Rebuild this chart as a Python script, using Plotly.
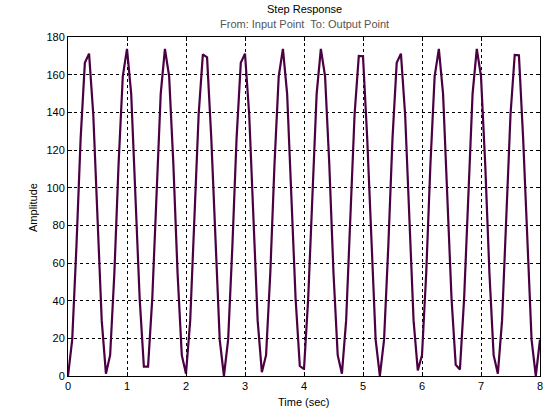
import plotly.graph_objects as go

sample_period = 1.0 / 14.0
amplitude = [
    0.00, 19.31, 68.67, 126.17, 166.28, 171.19, 138.73, 83.31, 29.52, 1.25,
    11.05, 54.56, 112.48, 159.08, 173.69, 149.81, 98.05, 41.38, 4.97, 4.97,
    41.38, 98.05, 149.81, 173.69, 159.08, 112.48, 54.56, 11.05, 1.25, 29.52,
    83.31, 138.73, 170.80, 169.20, 126.17, 68.67, 19.31,
    0.00, 19.31, 68.67, 126.17, 166.28, 171.19, 138.73, 83.31, 29.52, 2.00,
    11.05, 54.56, 112.48, 159.08, 173.69, 149.81, 98.05, 41.38, 5.30, 3.60,
    41.38, 98.05, 149.81, 173.69, 159.08, 112.48, 54.56, 11.05, 1.25, 29.52,
    83.31, 138.73, 170.00, 169.80, 126.17, 68.67, 19.31,
    0.00, 19.31, 68.67, 126.17, 166.28, 171.19, 138.73, 83.31, 29.52, 3.00,
    11.05, 54.56, 112.48, 159.08, 173.69, 149.81, 98.05, 41.38, 6.00, 3.50,
    41.38, 98.05, 149.81, 173.69, 159.08, 112.48, 54.56, 11.05, 1.25, 29.52,
    83.31, 138.73, 170.50, 170.30, 126.17, 68.67, 19.31,
    0.00, 19.31,
]
time = [i * sample_period for i in range(len(amplitude))]

x_ticks = [0, 1, 2, 3, 4, 5, 6, 7, 8]
y_ticks = [0, 20, 40, 60, 80, 100, 120, 140, 160, 180]

title_text = "Step Response"
subtitle_text = "From: Input Point  To: Output Point"
x_label = "Time (sec)"
y_label = "Amplitude"

FONT = "Liberation Sans, Arial, sans-serif"

fig = go.Figure()
fig.add_trace(go.Scatter(
    x=time, y=amplitude, mode="lines",
    line=dict(color="#4a0042", width=2.2),
    showlegend=False, hoverinfo="skip",
))

axis_common = dict(
    showline=True, linecolor="black", linewidth=1, mirror="ticks",
    ticks="inside", ticklen=4, tickcolor="black",
    showgrid=True, gridcolor="black", gridwidth=1, griddash="3px,3px",
    zeroline=False,
    tickfont=dict(family=FONT, size=11, color="black"),
)

fig.update_xaxes(range=[0, 8], tickvals=x_ticks, ticktext=[str(v) for v in x_ticks], **axis_common)
fig.update_yaxes(range=[0, 180], tickvals=y_ticks, ticktext=[str(v) for v in y_ticks], **axis_common)

fig.update_layout(
    width=560, height=420,
    margin=dict(l=68, r=20, t=37, b=44, pad=0),
    paper_bgcolor="white", plot_bgcolor="white",
    font=dict(family=FONT, size=11, color="black"),
    annotations=[
        dict(text=title_text, xref="paper", yref="paper", x=0.5, y=1.0826,
             xanchor="center", yanchor="middle", showarrow=False,
             font=dict(family=FONT, size=11, color="black")),
        dict(text=subtitle_text, xref="paper", yref="paper", x=0.5, y=1.0383,
             xanchor="center", yanchor="middle", showarrow=False,
             font=dict(family=FONT, size=11, color="#555555")),
        dict(text=x_label, xref="paper", yref="paper", x=0.5, y=-0.0767,
             xanchor="center", yanchor="middle", showarrow=False,
             font=dict(family=FONT, size=11, color="black")),
        dict(text=y_label, xref="paper", yref="paper", x=-0.0742, y=0.4985,
             xanchor="center", yanchor="middle", showarrow=False, textangle=-90,
             font=dict(family=FONT, size=11, color="black")),
    ],
)

fig.write_html(
    "out.html",
    config={"displayModeBar": False},
    post_script="document.body.style.margin='0';document.body.style.overflow='hidden';",
)
